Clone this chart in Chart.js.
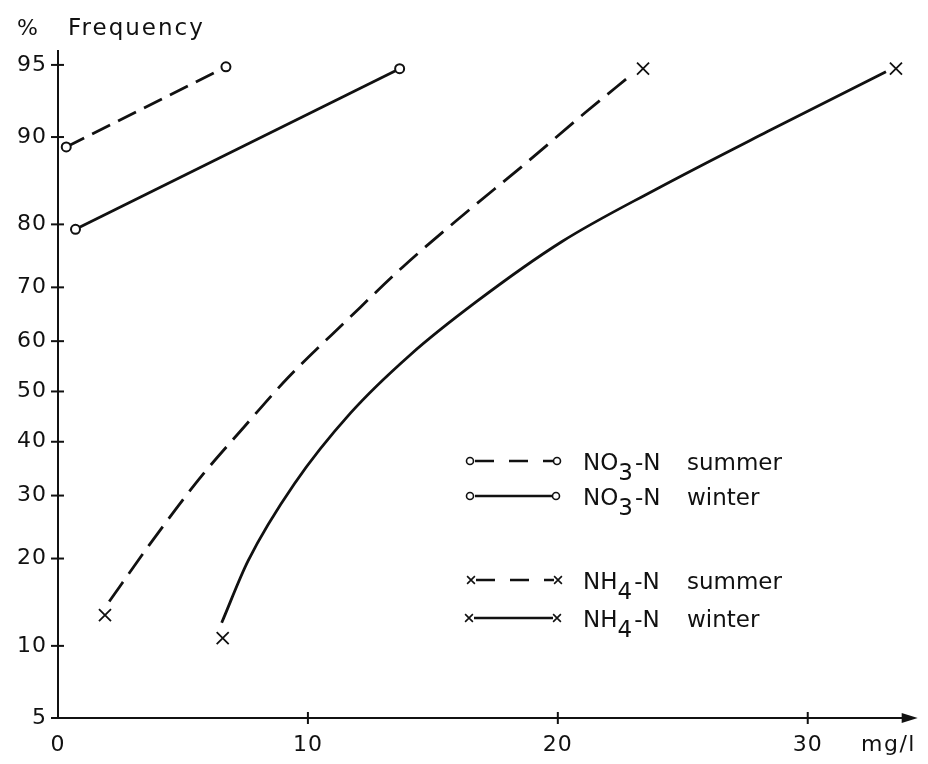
<!DOCTYPE html>
<html>
<head>
<meta charset="utf-8">
<script src="https://cdn.jsdelivr.net/npm/chart.js@4/dist/chart.umd.min.js"></script>
<style>
  html, body { margin: 0; padding: 0; background: #fff; }
  canvas { display: block; }
</style>
</head>
<body>
<canvas id="chart" width="928" height="764"></canvas>
<script>
// probability axis ticks (%) and concentration ticks (mg/l)
const yTicks = [5, 10, 20, 30, 40, 50, 60, 70, 80, 90, 95];
const xTicks = [0, 10, 20, 30];

// NO3-N summer (dashed, circles at both ends)
const no3SummerX = [0.33, 6.72];
const no3SummerY = [89.1, 94.9];

// NO3-N winter (solid, circles at both ends)
const no3WinterX = [0.70, 13.67];
const no3WinterY = [79.3, 94.8];

// NH4-N summer curve (dashed) and its end crosses
const nh4SummerX = [2.05, 3.64, 5.62, 7.41, 9.19, 11.58, 13.83, 16.21, 18.59, 21.10, 22.95];
const nh4SummerY = [14.5, 21.9, 32.8, 42.7, 52.7, 64.1, 73.6, 81.3, 87.2, 92.0, 94.47];
const nh4SummerEndX = [1.88, 23.41];
const nh4SummerEndY = [13.0, 94.8];

// NH4-N winter curve (solid) and its end crosses
const nh4WinterX = [6.55, 7.61, 9.46, 11.71, 14.09, 16.73, 20.17, 23.88, 28.37, 33.13];
const nh4WinterY = [12.2, 19.7, 32.1, 45.7, 57.3, 67.4, 77.5, 84.5, 90.46, 94.64];
const nh4WinterEndX = [6.59, 33.53];
const nh4WinterEndY = [10.7, 94.8];

const FONT = '"DejaVu Sans", "Liberation Sans", sans-serif';
const INK = '#111';

// inverse normal cdf (Acklam) - turns % into probit units for the y scale
function probit(p) {
  const a = [-3.969683028665376e+01, 2.209460984245205e+02, -2.759285104469687e+02, 1.383577518672690e+02, -3.066479806614716e+01, 2.506628277459239e+00];
  const b = [-5.447609879822406e+01, 1.615858368580409e+02, -1.556989798598866e+02, 6.680131188771972e+01, -1.328068155288572e+01];
  const c = [-7.784894002430293e-03, -3.223964580411365e-01, -2.400758277161838e+00, -2.549732539343734e+00, 4.374664141464968e+00, 2.938163982698783e+00];
  const d = [7.784695709041462e-03, 3.224671290700398e-01, 2.445134137142996e+00, 3.754408661907416e+00];
  const plow = 0.02425;
  let q, r;
  if (p < plow) {
    q = Math.sqrt(-2 * Math.log(p));
    return (((((c[0]*q+c[1])*q+c[2])*q+c[3])*q+c[4])*q+c[5]) / ((((d[0]*q+d[1])*q+d[2])*q+d[3])*q+1);
  }
  if (p > 1 - plow) {
    q = Math.sqrt(-2 * Math.log(1 - p));
    return -(((((c[0]*q+c[1])*q+c[2])*q+c[3])*q+c[4])*q+c[5]) / ((((d[0]*q+d[1])*q+d[2])*q+d[3])*q+1);
  }
  q = p - 0.5; r = q * q;
  return (((((a[0]*r+a[1])*r+a[2])*r+a[3])*r+a[4])*r+a[5])*q / (((((b[0]*r+b[1])*r+b[2])*r+b[3])*r+b[4])*r+1);
}

const toPoints = (xs, ys) => xs.map((x, i) => ({ x: x, y: probit(ys[i] / 100) }));

// NO3 lines run right into their circles
const circleSet = (label, xs, ys, dash) => ({
  label: label,
  data: toPoints(xs, ys),
  borderColor: INK,
  borderWidth: 2.8,
  borderDash: dash,
  pointStyle: 'circle',
  pointRadius: 4.5,
  pointBorderWidth: 2,
  pointBorderColor: INK,
  pointBackgroundColor: '#fff'
});

// NH4 curves stop just short of their crosses
const curveSet = (label, xs, ys, dash) => ({
  label: label,
  data: toPoints(xs, ys),
  borderColor: INK,
  borderWidth: 2.8,
  borderDash: dash,
  cubicInterpolationMode: 'monotone',
  pointRadius: 0
});
const crossSet = (label, xs, ys) => ({
  label: label,
  data: toPoints(xs, ys),
  showLine: false,
  pointStyle: 'crossRot',
  pointRadius: 8.5,
  pointBorderWidth: 1.8,
  pointBorderColor: INK,
  borderColor: INK
});

const datasets = [
  circleSet('NO3-N summer', no3SummerX, no3SummerY, [20, 9]),
  circleSet('NO3-N winter', no3WinterX, no3WinterY, []),
  curveSet('NH4-N summer', nh4SummerX, nh4SummerY, [24, 10]),
  curveSet('NH4-N winter', nh4WinterX, nh4WinterY, []),
  crossSet('NH4-N summer ends', nh4SummerEndX, nh4SummerEndY),
  crossSet('NH4-N winter ends', nh4WinterEndX, nh4WinterEndY)
];

// axes with crossing ticks, arrow, titles and the hand-made legend
const decor = {
  id: 'decor',
  beforeDraw(chart) {
    chart.ctx.letterSpacing = '1px';
  },
  afterDraw(chart) {
    const ctx = chart.ctx;
    const xs = chart.scales.x, ys = chart.scales.y;
    const a = chart.chartArea;
    ctx.save();
    ctx.strokeStyle = INK;
    ctx.fillStyle = INK;
    ctx.lineWidth = 2;
    ctx.setLineDash([]);

    // y axis
    ctx.beginPath();
    ctx.moveTo(a.left, a.bottom);
    ctx.lineTo(a.left, a.top);
    ctx.stroke();
    // x axis with arrow
    ctx.beginPath();
    ctx.moveTo(a.left, a.bottom);
    ctx.lineTo(a.right - 10, a.bottom);
    ctx.stroke();
    ctx.beginPath();
    ctx.moveTo(a.right, a.bottom);
    ctx.lineTo(a.right - 16, a.bottom - 5);
    ctx.lineTo(a.right - 16, a.bottom + 5);
    ctx.closePath();
    ctx.fill();

    ys.ticks.forEach(t => {
      const py = ys.getPixelForValue(t.value);
      ctx.beginPath();
      ctx.moveTo(a.left - 7, py);
      ctx.lineTo(a.left + 6, py);
      ctx.stroke();
    });
    xs.ticks.forEach(t => {
      if (t.value === 0) return;
      const px = xs.getPixelForValue(t.value);
      ctx.beginPath();
      ctx.moveTo(px, a.bottom - 6);
      ctx.lineTo(px, a.bottom + 6);
      ctx.stroke();
    });

    // axis titles
    ctx.textAlign = 'left';
    ctx.textBaseline = 'alphabetic';
    ctx.font = '22px ' + FONT;
    ctx.letterSpacing = '0px';
    ctx.fillText('%', 17, 35);
    ctx.font = '23px ' + FONT;
    ctx.letterSpacing = '2px';
    ctx.fillText('Frequency', 68, 35);
    ctx.font = '22px ' + FONT;
    ctx.letterSpacing = '1.5px';
    ctx.textBaseline = 'middle';
    ctx.fillText('mg/l', 861, 745);

    // legend
    const rows = [
      { y: 461, x0: 470, x1: 557, style: 'circle', dashed: true, main: 'NO', sub: '3', word: 'summer' },
      { y: 496, x0: 470, x1: 556, style: 'circle', dashed: false, main: 'NO', sub: '3', word: 'winter' },
      { y: 580, x0: 471, x1: 558, style: 'crossRot', dashed: true, main: 'NH', sub: '4', word: 'summer' },
      { y: 618, x0: 469, x1: 557, style: 'crossRot', dashed: false, main: 'NH', sub: '4', word: 'winter' }
    ];
    ctx.letterSpacing = '0px';
    rows.forEach(r => {
      const circ = r.style === 'circle';
      ctx.lineWidth = 2.4;
      ctx.setLineDash(r.dashed ? [19, 15] : []);
      ctx.beginPath();
      ctx.moveTo(r.x0 + 5, r.y);
      ctx.lineTo(r.x1 - 4, r.y);
      ctx.stroke();
      ctx.setLineDash([]);
      ctx.lineWidth = 1.6;
      [r.x0, r.x1].forEach(px => {
        if (circ) {
          ctx.fillStyle = '#fff';
          ctx.beginPath();
          ctx.arc(px, r.y, 3.5, 0, Math.PI * 2);
          ctx.fill();
          ctx.stroke();
          ctx.fillStyle = INK;
        } else {
          Chart.helpers.drawPoint(ctx, { pointStyle: 'crossRot', radius: 5.5, borderWidth: 1.6 }, px, r.y);
        }
      });
      ctx.font = '23px ' + FONT;
      ctx.textAlign = 'left';
      ctx.textBaseline = 'middle';
      let tx = 583;
      ctx.fillText(r.main, tx, r.y + 3);
      tx += ctx.measureText(r.main).width;
      ctx.fillText(r.sub, tx, r.y + 13);
      tx += ctx.measureText(r.sub).width + 2;
      ctx.fillText('-N', tx, r.y + 3);
      ctx.fillText(r.word, 687, r.y + 3);
    });
    ctx.restore();
  }
};

new Chart(document.getElementById('chart'), {
  type: 'line',
  data: { datasets: datasets },
  options: {
    responsive: false,
    animation: false,
    layout: { padding: { top: 50, right: 3, left: 0, bottom: 0 } },
    plugins: { legend: { display: false }, tooltip: { enabled: false } },
    scales: {
      x: {
        type: 'linear',
        min: 0,
        max: 34.4,
        afterBuildTicks: s => { s.ticks = xTicks.map(v => ({ value: v })); },
        afterFit: s => { s.height = 46; },
        grid: { display: false, drawTicks: false },
        border: { display: false },
        ticks: {
          padding: 14,
          maxRotation: 0,
          autoSkip: false,
          color: INK,
          font: { family: FONT, size: 22 }
        }
      },
      y: {
        type: 'linear',
        min: probit(0.05),
        max: 1.72,
        afterBuildTicks: s => { s.ticks = yTicks.map(p => ({ value: probit(p / 100) })); },
        afterFit: s => { s.width = 58; },
        grid: { display: false, drawTicks: false },
        border: { display: false },
        ticks: {
          padding: 11,
          autoSkip: false,
          color: INK,
          font: { family: FONT, size: 22 },
          callback: (v, i) => String(yTicks[i])
        }
      }
    }
  },
  plugins: [decor]
});
</script>
</body>
</html>
